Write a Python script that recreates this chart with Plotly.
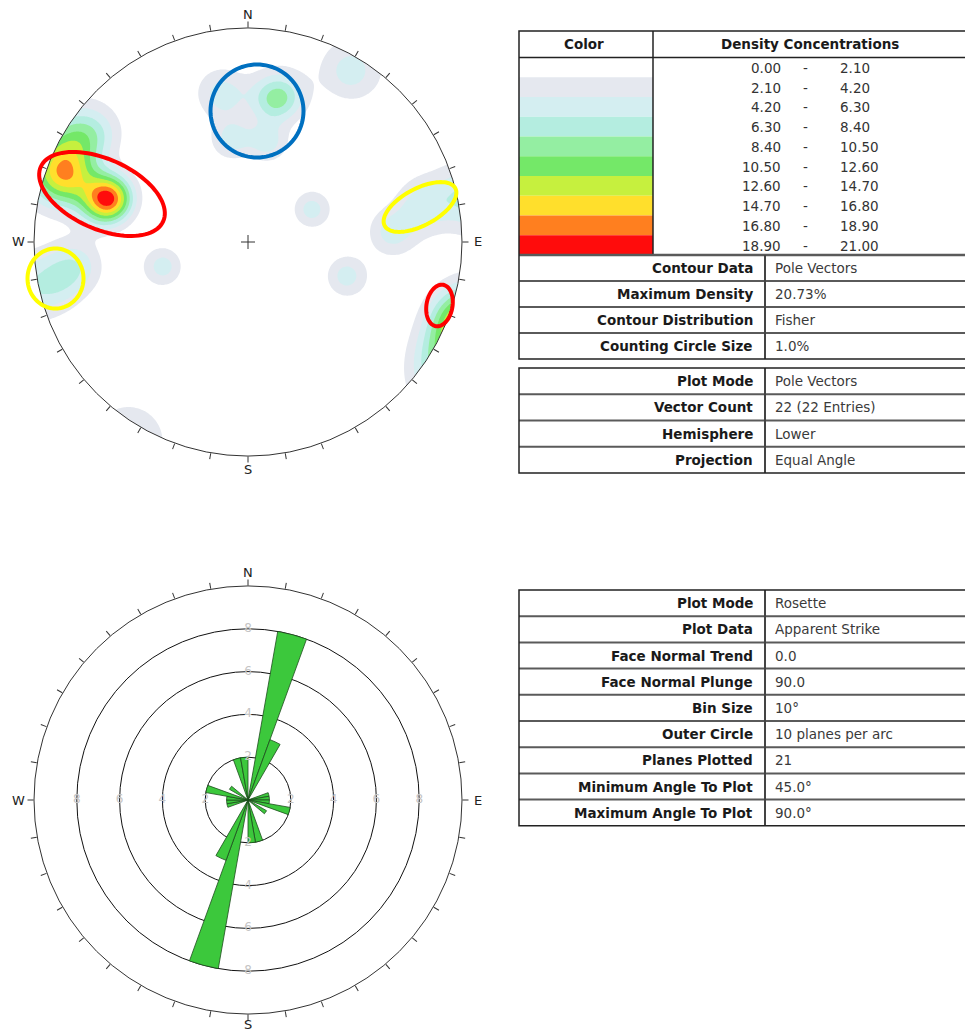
import numpy as np
import plotly.graph_objects as go

W, H = 965, 1032

# ---------------- Stereonet data (pole vectors, lower hemisphere) ----------------
pole_trend = [287, 287, 286, 288, 291, 289, 290, 300, 305,
              9, 14, 350, 351, 11, 31, 63, 254, 109, 258, 78, 262, 86]
pole_plunge = [21, 21, 19, 23, 3, 4, 6, 3, 7,
               22, 20, 20, 38, 39, 4, 53, 45, 38, 3, 10, 12, 22]
MAX_DENSITY = 20.73
KAPPA = 85.0

density_levels = [0.00, 2.10, 4.20, 6.30, 8.40, 10.50, 12.60, 14.70, 16.80, 18.90, 21.00]
density_colors = ['#ffffff', '#e5e8ef', '#d4eef1', '#b4ede0', '#94eea2',
                  '#74e868', '#c6f03e', '#ffdf2c', '#ff7f1f', '#ff0c0c']

contour_info_labels = ['Contour Data', 'Maximum Density', 'Contour Distribution', 'Counting Circle Size']
contour_info_values = ['Pole Vectors', '20.73%', 'Fisher', '1.0%']
plot_info_labels = ['Plot Mode', 'Vector Count', 'Hemisphere', 'Projection']
plot_info_values = ['Pole Vectors', '22 (22 Entries)', 'Lower', 'Equal Angle']

# ---------------- Rosette data (apparent strike, 10 degree bins, 0-180) ----------------
bin_size = 10
strike_counts = [0, 8, 3, 0, 0, 0, 0, 1, 1, 1, 2, 0, 1, 0, 0, 0, 2, 2]
ring_values = [2, 4, 6, 8]
outer_circle = 10

rosette_labels = ['Plot Mode', 'Plot Data', 'Face Normal Trend', 'Face Normal Plunge', 'Bin Size',
                  'Outer Circle', 'Planes Plotted', 'Minimum Angle To Plot', 'Maximum Angle To Plot']
rosette_values = ['Rosette', 'Apparent Strike', '0.0', '90.0', '10°',
                  '10 planes per arc', '21', '45.0°', '90.0°']

tick_angles = list(range(0, 360, 10))
cardinals = ['N', 'E', 'S', 'W']

FONT = 'DejaVu Sans'
LABEL_SIZE = 13.5


def fx(x):
    return x / W


def fy(y):
    return 1 - y / H


# ---------------- Layout geometry ----------------
R = 214
ST_C = (248, 242)
RO_C = (248, 800)
st_dom_x = [fx(ST_C[0] - R), fx(ST_C[0] + R)]
st_dom_y = [fy(ST_C[1] + R), fy(ST_C[1] - R)]
ro_dom_x = [fx(RO_C[0] - R), fx(RO_C[0] + R)]
ro_dom_y = [fy(RO_C[1] + R), fy(RO_C[1] - R)]

# ---------------- Fisher density on an equal-angle grid ----------------
n = 361
g = np.linspace(-1.0, 1.0, n)
X, Y = np.meshgrid(g, g)
rr = np.hypot(X, Y)
ang = 2 * np.arctan(rr)
az = np.arctan2(X, Y)
v = np.stack([np.sin(ang) * np.sin(az), np.sin(ang) * np.cos(az), np.cos(ang)], -1)
T = np.radians(pole_trend)
P = np.radians(pole_plunge)
pv = np.stack([np.cos(P) * np.sin(T), np.cos(P) * np.cos(T), np.sin(P)], -1)
dots = np.abs(v @ pv.T)
raw = np.exp(KAPPA * (dots - 1.0)).sum(-1)
dens = raw / raw[rr <= 1].max() * MAX_DENSITY

# discrete colour map for the filled bands
band_cols = ['#ffffff'] + density_colors + [density_colors[-1]]
nb = len(band_cols) - 1
cscale = []
for i, c in enumerate(band_cols):
    lo = max(0.0, (i - 0.5) / nb)
    hi = min(1.0, (i + 0.5) / nb)
    cscale += [[lo, c], [hi, c]]

fig = go.Figure()

fig.add_trace(go.Contour(
    x=g, y=g, z=np.round(dens, 3), xaxis='x', yaxis='y',
    autocontour=False,
    contours=dict(start=density_levels[0], end=density_levels[-1],
                  size=density_levels[1] - density_levels[0],
                  coloring='fill', showlines=False),
    line=dict(width=0), colorscale=cscale, showscale=False, hoverinfo='skip'))

# white mask outside the primitive circle
tt = np.linspace(0, -2 * np.pi, 361)
mx = [1.05, 1.05, -1.05, -1.05, 1.05, 1.05] + list(np.cos(tt)) + [1.05]
my = [0, 1.05, 1.05, -1.05, -1.05, 0] + list(np.sin(tt)) + [0]
fig.add_trace(go.Scatter(x=mx, y=my, mode='lines', fill='toself', fillcolor='white',
                         line=dict(width=0, color='white'), hoverinfo='skip',
                         xaxis='x', yaxis='y'))

# centre cross
cl = 7 / R
fig.add_trace(go.Scatter(x=[-cl, cl, None, 0, 0], y=[0, 0, None, -cl, cl], mode='lines',
                         line=dict(color='#333', width=1), hoverinfo='skip',
                         xaxis='x', yaxis='y'))

# stereonet frame (polar overlay)
fig.add_trace(go.Scatterpolar(r=[0], theta=[0], mode='markers', marker=dict(opacity=0),
                              subplot='polar2', hoverinfo='skip'))

# ---------------- Rosette ----------------
centers = [bin_size * i + bin_size / 2 for i in range(36)]
counts = strike_counts + strike_counts
fig.add_trace(go.Barpolar(
    r=counts, theta=centers, width=[bin_size] * 36, subplot='polar',
    marker=dict(color='#3cc83c', line=dict(color='#1d4d1d', width=0.8)),
    hoverinfo='skip'))

lab_r, lab_t, lab_s = [], [], []
for a in [0, 90, 180, 270]:
    for rv in ring_values:
        lab_r.append(rv)
        lab_t.append(a)
        lab_s.append(str(rv))
fig.add_trace(go.Scatterpolar(r=lab_r, theta=lab_t, text=lab_s, mode='text', subplot='polar',
                              textfont=dict(family=FONT, size=12, color='#c4c4c4'),
                              hoverinfo='skip'))

angular_common = dict(rotation=90, direction='clockwise', showgrid=False, showline=True,
                      linecolor='#333', linewidth=1, ticks='outside', ticklen=6,
                      tickcolor='#333', tickwidth=1, tickmode='array',
                      tickvals=tick_angles, showticklabels=False)

fig.update_layout(
    width=W, height=H, margin=dict(l=0, r=0, t=0, b=0),
    paper_bgcolor='white', plot_bgcolor='white', showlegend=False,
    xaxis=dict(domain=st_dom_x, range=[-1, 1], visible=False, fixedrange=True),
    yaxis=dict(domain=st_dom_y, range=[-1, 1], visible=False, fixedrange=True),
    polar2=dict(domain=dict(x=st_dom_x, y=st_dom_y), bgcolor='rgba(0,0,0,0)',
                radialaxis=dict(visible=False, range=[0, 1]),
                angularaxis=angular_common),
    polar=dict(domain=dict(x=ro_dom_x, y=ro_dom_y), bgcolor='rgba(0,0,0,0)',
               radialaxis=dict(range=[0, outer_circle], tickvals=ring_values + [outer_circle],
                               showticklabels=False, ticks='', showline=False,
                               showgrid=True, gridcolor='#111', gridwidth=1),
               angularaxis=angular_common),
)

shapes = []
annots = []


def hline(y, x0, x1, color='#222', width=1.5):
    shapes.append(dict(type='line', xref='paper', yref='paper', x0=fx(x0), x1=fx(x1),
                       y0=fy(y), y1=fy(y), line=dict(color=color, width=width)))


def vline(x, y0, y1, color='#222', width=1.5):
    shapes.append(dict(type='line', xref='paper', yref='paper', x0=fx(x), x1=fx(x),
                       y0=fy(y0), y1=fy(y1), line=dict(color=color, width=width)))


def text(x, y, s, anchor, bold=False, color='#222', size=LABEL_SIZE):
    annots.append(dict(xref='paper', yref='paper', x=fx(x), y=fy(y), showarrow=False,
                       text=f'<b>{s}</b>' if bold else s, xanchor=anchor, yanchor='middle',
                       font=dict(family=FONT, size=size, color=color)))


# compass letters around both nets
for cx, cy in [ST_C, RO_C]:
    off = R + 14
    for k, lab in enumerate(cardinals):
        a = np.radians(90 * k)
        dx, dy = np.sin(a), -np.cos(a)
        px = cx + dx * (off + (2 if dx else 0))
        py = cy + dy * off
        if lab == 'S' and cy == RO_C[1]:
            py = min(py, H - 8)
        text(px, py, lab, 'center', color='#222', size=13)


def info_table(top, labels, values, row_h, div_x=765):
    bottom = top + row_h * len(labels)
    for i, (lab, val) in enumerate(zip(labels, values)):
        yc = top + row_h * (i + 0.5)
        text(div_x - 10, yc, lab, 'right', bold=True, color='#1a1a1a')
        text(div_x + 8, yc, val, 'left', color='#3a3a3a')
        if i > 0:
            hline(top + row_h * i, 519, 980, color='#5a5a5a', width=2)
    vline(div_x, top, bottom, color='#444', width=2)
    return bottom


# --- density legend table ---
L_TOP, L_HEAD, L_END = 31, 57.5, 255
row = (L_END - L_HEAD) / len(density_colors)
for i, c in enumerate(density_colors):
    shapes.append(dict(type='rect', xref='paper', yref='paper', x0=fx(519), x1=fx(653),
                       y0=fy(L_HEAD + row * (i + 1)), y1=fy(L_HEAD + row * i),
                       fillcolor=c, line=dict(width=0), layer='below'))
    yc = L_HEAD + row * (i + 0.5) + 0.5
    text(783, yc, f'{density_levels[i]:.2f}', 'right', color='#333')
    text(805, yc, '-', 'center', color='#333')
    text(838, yc, f'{density_levels[i + 1]:.2f}', 'left', color='#333')
text(584, 44.5, 'Color', 'center', bold=True, color='#1a1a1a')
text(810, 44.5, 'Density Concentrations', 'center', bold=True, color='#1a1a1a')
hline(L_HEAD, 519, 980)
vline(653, L_TOP, L_END)
hline(L_END, 519, 980, color='#5a5a5a', width=2.5)
b1 = info_table(L_END, contour_info_labels, contour_info_values, 26)
shapes.append(dict(type='rect', xref='paper', yref='paper', x0=fx(519), x1=fx(985),
                   y0=fy(b1), y1=fy(L_TOP), line=dict(color='#222', width=1.5)))

b2_top = 368
b2 = info_table(b2_top, plot_info_labels, plot_info_values, 26.25)
shapes.append(dict(type='rect', xref='paper', yref='paper', x0=fx(519), x1=fx(985),
                   y0=fy(b2), y1=fy(b2_top), line=dict(color='#222', width=1.5)))

# --- rosette table ---
r_top = 590
b3 = info_table(r_top, rosette_labels, rosette_values, 26.2)
shapes.append(dict(type='rect', xref='paper', yref='paper', x0=fx(519), x1=fx(985),
                   y0=fy(b3), y1=fy(r_top), line=dict(color='#222', width=1.5)))

# --- highlight rings drawn over the stereonet ---
highlights = [
    (102, 194, 67, 35, 24, '#ff0000'),
    (257, 111, 46.5, 46.5, 0, '#0070c0'),
    (420, 207, 40, 18.5, -28, '#ffff00'),
    (55.5, 278.5, 28, 30, 0, '#ffff00'),
    (439.5, 305.5, 21, 13, -80, '#ff0000'),
]
for cx, cy, a, b, phi, col in highlights:
    t = np.linspace(0, 2 * np.pi, 97)
    ph = np.radians(phi)
    xs = cx + a * np.cos(t) * np.cos(ph) - b * np.sin(t) * np.sin(ph)
    ys = cy + a * np.cos(t) * np.sin(ph) + b * np.sin(t) * np.cos(ph)
    path = 'M ' + ' L '.join(f'{fx(x):.5f},{fy(y):.5f}' for x, y in zip(xs, ys)) + ' Z'
    shapes.append(dict(type='path', xref='paper', yref='paper', path=path,
                       line=dict(color=col, width=4), layer='above'))

fig.update_layout(shapes=shapes, annotations=annots)
fig.write_html('out.html')
